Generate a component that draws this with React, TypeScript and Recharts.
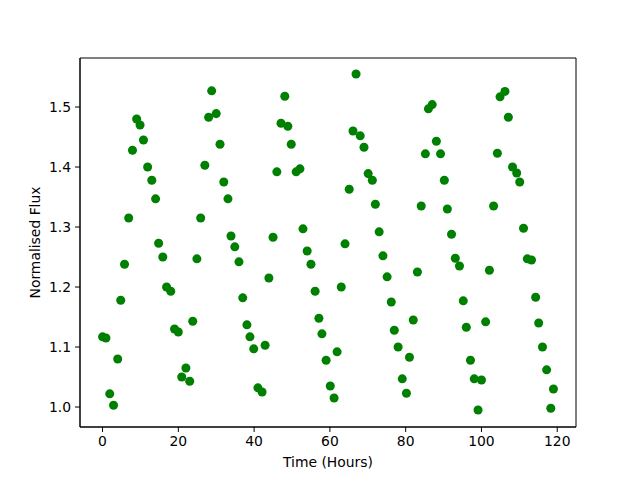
import { ScatterChart, Scatter, XAxis, YAxis, ZAxis, ReferenceArea } from "recharts";

const hours = [
  0.0, 0.9, 1.9, 2.9, 4.0, 4.8, 5.8, 6.9, 7.9, 9.0,
  9.9, 10.8, 11.9, 13.0, 14.0, 14.8, 15.9, 16.9, 18.0, 19.0,
  20.0, 20.9, 22.0, 23.0, 23.8, 24.9, 25.9, 27.0, 28.0, 28.8,
  30.0, 31.0, 32.0, 33.1, 33.9, 34.9, 36.0, 37.0, 38.1, 38.9,
  39.9, 41.0, 42.1, 42.9, 43.9, 45.0, 46.0, 47.1, 48.1, 48.9,
  49.8, 51.1, 52.1, 52.9, 54.0, 55.0, 56.1, 57.1, 57.9, 59.0,
  60.1, 61.1, 61.9, 63.0, 64.0, 65.1, 66.1, 66.9, 68.0, 69.0,
  70.1, 71.2, 72.0, 73.0, 74.0, 75.1, 76.2, 77.0, 78.0, 79.1,
  80.2, 81.0, 82.0, 83.1, 84.1, 85.2, 86.0, 87.0, 88.1, 89.2,
  90.2, 91.0, 92.1, 93.1, 94.2, 95.2, 96.0, 97.1, 98.1, 99.1,
  100.0, 101.1, 102.1, 103.2, 104.2, 104.9, 106.2, 107.1, 108.2, 109.3,
  110.1, 111.1, 112.1, 113.2, 114.3, 115.1, 116.1, 117.2, 118.3, 119.0,
];

// normalised flux at each time
const flux = [
  1.117, 1.115, 1.022, 1.003, 1.08, 1.178, 1.238, 1.315, 1.428, 1.48,
  1.47, 1.445, 1.4, 1.378, 1.347, 1.273, 1.25, 1.2, 1.193, 1.13,
  1.125, 1.05, 1.065, 1.043, 1.143, 1.247, 1.315, 1.403, 1.483, 1.527,
  1.489, 1.438, 1.375, 1.347, 1.285, 1.267, 1.242, 1.182, 1.137, 1.117,
  1.097, 1.032, 1.025, 1.103, 1.215, 1.283, 1.392, 1.473, 1.518, 1.468,
  1.438, 1.392, 1.397, 1.297, 1.26, 1.238, 1.193, 1.148, 1.122, 1.078,
  1.035, 1.015, 1.092, 1.2, 1.272, 1.363, 1.46, 1.555, 1.452, 1.433,
  1.389, 1.378, 1.338, 1.292, 1.252, 1.217, 1.175, 1.128, 1.1, 1.047,
  1.023, 1.083, 1.145, 1.225, 1.335, 1.422, 1.497, 1.504, 1.443, 1.422,
  1.378, 1.33, 1.288, 1.248, 1.235, 1.177, 1.133, 1.078, 1.047, 0.995,
  1.045, 1.142, 1.228, 1.335, 1.423, 1.517, 1.526, 1.483, 1.4, 1.39,
  1.375, 1.298, 1.247, 1.245, 1.183, 1.14, 1.1, 1.062, 0.998, 1.03,
];

const xTicks = [0, 20, 40, 60, 80, 100, 120];
const yTicks = [1.0, 1.1, 1.2, 1.3, 1.4, 1.5];

const xDomain: [number, number] = [-5.95, 124.95];
const yDomain: [number, number] = [0.9667, 1.5817];

const points = hours.map((t, i) => ({ time: t, flux: flux[i] }));

const font = "DejaVu Sans";
const tickStyle = { fill: "#000", fontSize: 13.9, fontFamily: font };

export default function App() {
  return (
    <div style={{ position: "absolute", left: 0, top: 0, background: "#fff" }}>
      <ScatterChart
        width={640}
        height={480}
        margin={{ top: 58, right: 64, bottom: 0, left: 0 }}
      >
        <XAxis
          type="number"
          dataKey="time"
          domain={xDomain}
          ticks={xTicks}
          allowDataOverflow
          height={53}
          stroke="#000"
          tickSize={5}
          tickMargin={4}
          tick={tickStyle}
          label={({ viewBox }: any) => (
            <text
              x={viewBox.x + viewBox.width / 2}
              y={viewBox.y + 40}
              textAnchor="middle"
              fill="#000"
              fontSize={13.9}
              fontFamily={font}
            >
              Time (Hours)
            </text>
          )}
        />
        <YAxis
          type="number"
          dataKey="flux"
          domain={yDomain}
          ticks={yTicks}
          allowDataOverflow
          width={80}
          stroke="#000"
          tickSize={5}
          tickMargin={4}
          tick={tickStyle}
          tickFormatter={(v: number) => v.toFixed(1)}
          label={({ viewBox }: any) => {
            const cx = 35;
            const cy = viewBox.y + viewBox.height / 2;
            return (
              <text
                x={cx}
                y={cy}
                transform={`rotate(-90 ${cx} ${cy})`}
                textAnchor="middle"
                dominantBaseline="central"
                fill="#000"
                fontSize={13.9}
                fontFamily={font}
              >
                Normalised Flux
              </text>
            );
          }}
        />
        <ZAxis range={[55, 55]} />
        <ReferenceArea
          x1={xDomain[0]}
          x2={xDomain[1]}
          y1={yDomain[0]}
          y2={yDomain[1]}
          fill="none"
          stroke="#000"
          strokeWidth={1}
        />
        <Scatter data={points} fill="#008000" isAnimationActive={false} />
      </ScatterChart>
    </div>
  );
}
